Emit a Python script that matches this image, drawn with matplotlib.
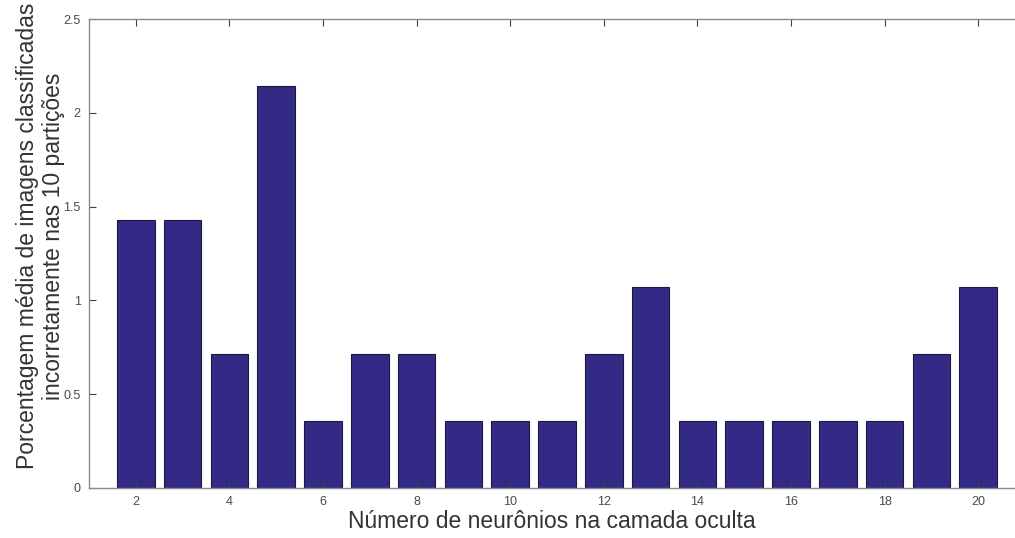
import matplotlib
matplotlib.use("Agg")
import matplotlib.pyplot as plt

plt.rcParams['font.family'] = ['Liberation Sans', 'DejaVu Sans']

neurons = list(range(2, 21))
erro = [1.429, 1.429, 0.714, 2.143, 0.357, 0.714, 0.714, 0.357, 0.357, 0.357,
        0.714, 1.071, 0.357, 0.357, 0.357, 0.357, 0.357, 0.714, 1.071]
xticks = [2, 4, 6, 8, 10, 12, 14, 16, 18, 20]
yticks = [0, 0.5, 1, 1.5, 2, 2.5]
ytick_labels = ['0', '0.5', '1', '1.5', '2', '2.5']

fig = plt.figure(figsize=(10.15, 5.38), dpi=100)
ax = fig.add_axes([89/1015, 50/538, 936/1015, 469/538])
ax.bar(neurons, erro, width=0.8, color='#332a86', edgecolor='#1a1a40', linewidth=0.8)
ax.set_xlim(1, 21)
ax.set_ylim(0, 2.5)
ax.set_xticks(xticks)
ax.set_xticklabels([str(t) for t in xticks])
ax.set_yticks(yticks)
ax.set_yticklabels(ytick_labels)
for s in ax.spines.values():
    s.set_color('#8a8a8a')
    s.set_linewidth(1.0)
ax.spines['right'].set_visible(False)
ax.tick_params(direction='in', top=True, right=False, length=5, width=0.8,
               color='#404040', labelsize=9, labelcolor='#4a4a4a', pad=6)
ax.set_xlabel('Número de neurônios na camada oculta', fontsize=16.5, color='#333333')
ax.xaxis.set_label_coords(0.494, -0.047)
ax.set_ylabel('Porcentagem média de imagens classificadas\nincorretamente nas 10 partições',
              fontsize=16.5, color='#333333', linespacing=1.15)
ax.yaxis.set_label_coords(-0.026, 0.537)
fig.savefig('out.png', dpi=100)
